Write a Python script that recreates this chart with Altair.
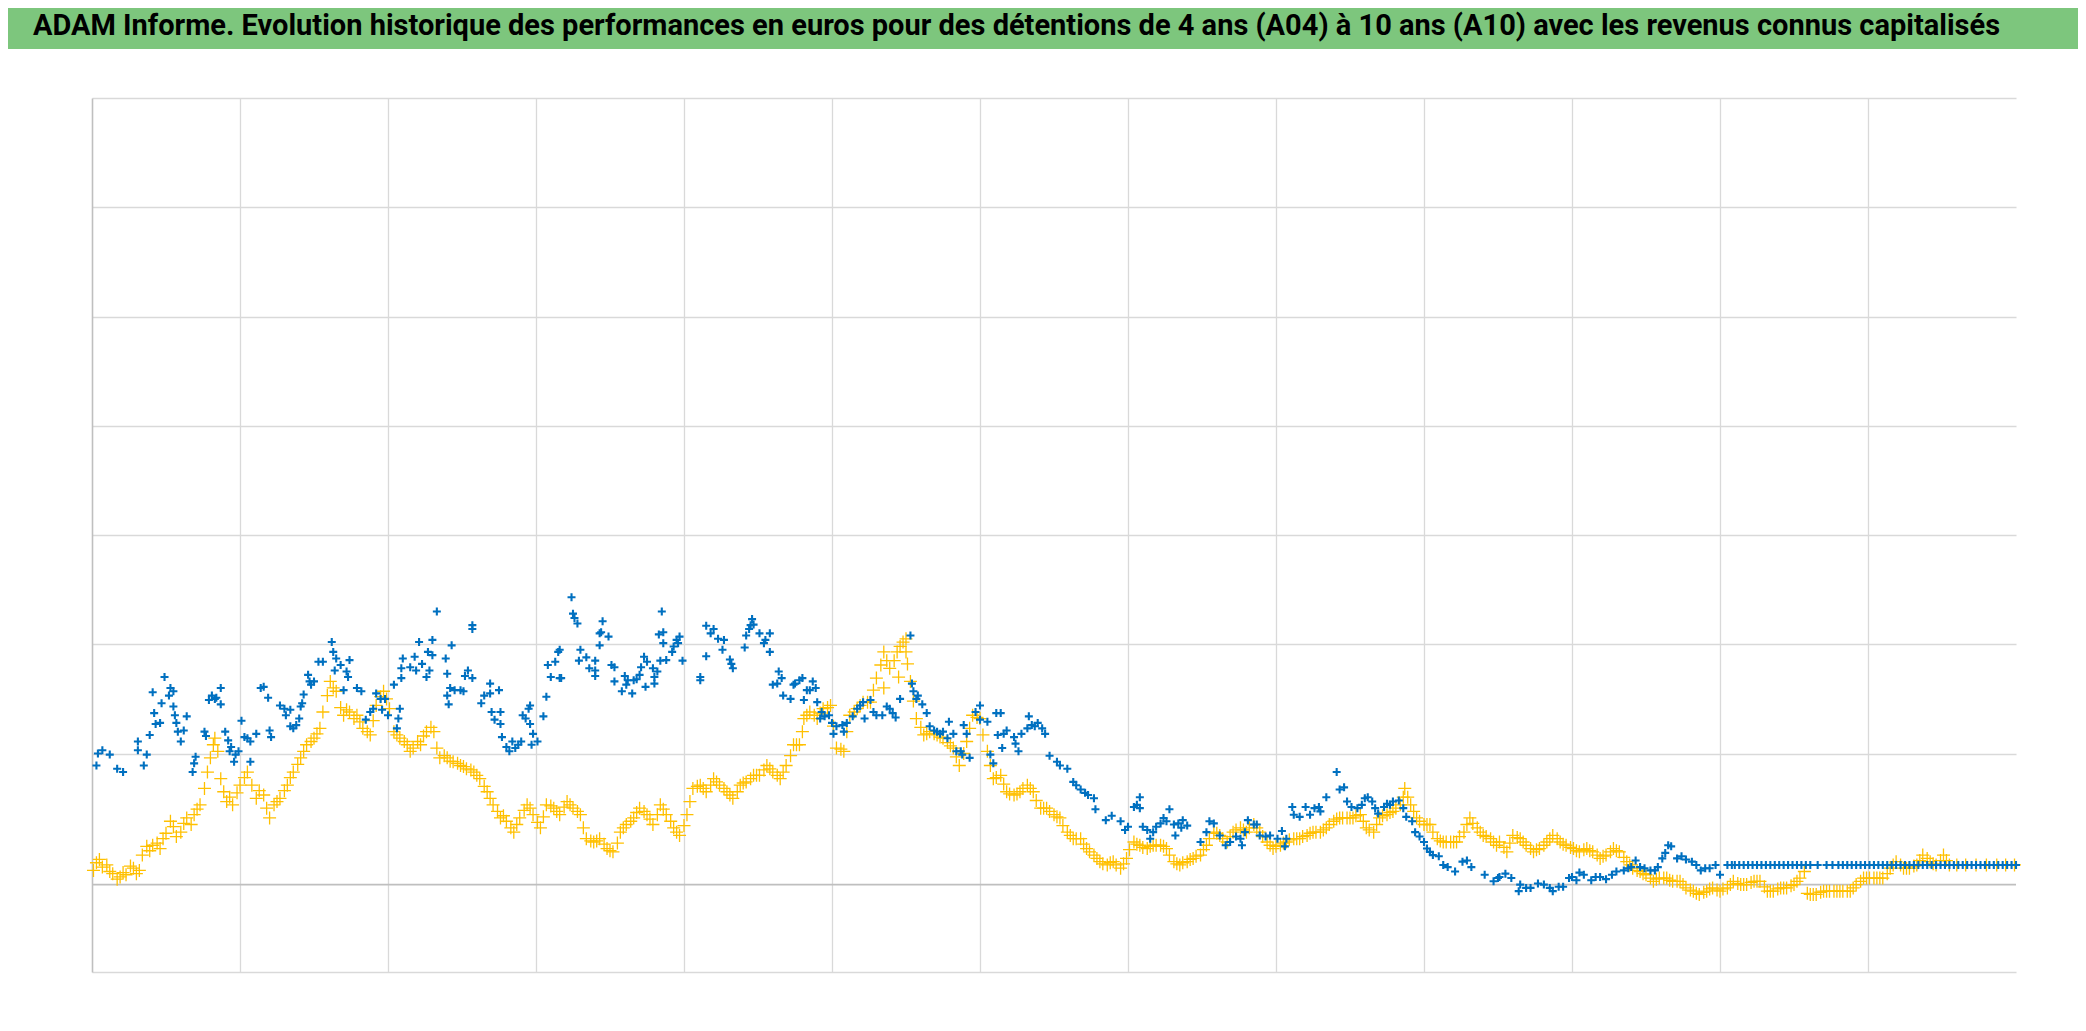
import altair as alt
import pandas as pd

TITLE = ("ADAM Informe. Evolution historique des performances en euros pour des "
         "détentions de 4 ans (A04) à 10 ans (A10) avec les revenus connus capitalisés")

# x = years since start of history, y = performance (1.0 = 100 %)
grid_x = [1, 2, 3, 4, 5, 6, 7, 8, 9, 10, 11, 12]
grid_y = [-0.8, 1.2, 2.2, 3.2, 4.2, 5.2, 6.2, 7.2]

# ---- yellow series (A10) ----
yellow_1 = [(0.01,0.13),(0.03,0.20),(0.05,0.23),(0.07,0.16),(0.10,0.18),(0.12,0.12),(0.14,0.10),(0.17,0.05),
            (0.19,0.07),(0.21,0.11),(0.23,0.09),(0.26,0.17),(0.28,0.15),(0.30,0.10),(0.32,0.13),(0.34,0.27),
            (0.37,0.35),(0.39,0.31),(0.41,0.36),(0.44,0.38),(0.46,0.33),(0.48,0.42),(0.50,0.47),(0.53,0.58),
            (0.55,0.53),(0.57,0.44),(0.60,0.48),(0.62,0.56),(0.64,0.61),(0.67,0.55),(0.69,0.64),(0.71,0.69),
            (0.73,0.73),(0.76,0.88),(0.78,1.03),(0.80,1.16),(0.82,1.28),(0.83,1.34),(0.85,1.22),(0.87,0.97),
            (0.89,0.85),(0.91,0.76),(0.93,0.80),(0.95,0.73),(0.98,0.84),(1.00,0.91),(1.03,0.98),(1.05,1.03),
            (1.08,0.91),(1.11,0.79),(1.13,0.86),(1.16,0.82),(1.18,0.70),(1.20,0.61),(1.23,0.73),(1.25,0.76),
            (1.27,0.79),(1.30,0.86),(1.32,0.91),(1.34,0.98),(1.36,1.03),(1.39,1.10),(1.41,1.16),(1.43,1.22),
            (1.45,1.28),(1.48,1.31),(1.50,1.34),(1.52,1.38),(1.54,1.43),(1.56,1.58),(1.59,1.73),(1.61,1.86),
            (1.63,1.80),(1.65,1.77),(1.68,1.62),(1.70,1.55),(1.72,1.60),(1.74,1.58),(1.77,1.52),(1.79,1.55),
            (1.81,1.49),(1.83,1.43),(1.86,1.40),(1.88,1.37),(1.90,1.50),(1.92,1.64),(1.95,1.72),(1.97,1.77),
            (1.99,1.70),(2.01,1.61),(2.04,1.40),(2.06,1.37),(2.08,1.34),(2.11,1.31),(2.13,1.28),(2.15,1.22),
            (2.17,1.25),(2.20,1.31),(2.22,1.28),(2.24,1.36),(2.26,1.40),(2.29,1.44),(2.31,1.40),(2.33,1.25),
            (2.35,1.16),(2.38,1.18),(2.40,1.16),(2.42,1.13),(2.44,1.125),(2.47,1.11),(2.49,1.09),(2.51,1.08),
            (2.53,1.06),(2.56,1.05),(2.58,1.03),(2.60,1.00),(2.62,0.97),(2.65,0.90),(2.67,0.85),(2.69,0.79),
            (2.71,0.73),(2.74,0.67)]
yellow_2 = [(2.76,0.61),(2.78,0.63),(2.80,0.58),(2.83,0.52),(2.85,0.48),(2.87,0.55),(2.89,0.61),(2.92,0.68),
            (2.94,0.73),(2.96,0.70),(2.98,0.64),(3.01,0.57),(3.03,0.52),(3.05,0.62),(3.07,0.73),(3.10,0.72),
            (3.12,0.70),(3.14,0.67),(3.16,0.64),(3.19,0.71),(3.21,0.76),(3.23,0.73),(3.25,0.70),(3.28,0.67),
            (3.30,0.64),(3.32,0.52),(3.34,0.42),(3.37,0.40),(3.39,0.39),(3.41,0.40),(3.43,0.42),(3.46,0.37),
            (3.48,0.33),(3.50,0.31),(3.52,0.30),(3.55,0.38),(3.57,0.48),(3.59,0.52),(3.61,0.55),(3.64,0.58),
            (3.66,0.61),(3.68,0.66),(3.70,0.70),(3.73,0.67),(3.75,0.64),(3.77,0.60),(3.79,0.55),(3.82,0.64),
            (3.84,0.73),(3.86,0.69),(3.88,0.64),(3.91,0.58),(3.93,0.52),(3.95,0.48),(3.97,0.45),(4.00,0.54),
            (4.02,0.64),(4.04,0.76),(4.06,0.88),(4.09,0.90),(4.11,0.91),(4.13,0.88),(4.15,0.85),(4.18,0.91),
            (4.20,0.97),(4.22,0.94),(4.24,0.91),(4.27,0.88),(4.29,0.85),(4.31,0.82),(4.33,0.79),(4.36,0.85),
            (4.38,0.91),(4.40,0.93),(4.42,0.94),(4.45,0.97),(4.47,1.00),(4.49,1.00),(4.51,1.00),(4.54,1.05),
            (4.56,1.09),(4.58,1.06),(4.60,1.03),(4.63,1.00),(4.65,0.97),(4.67,1.03),(4.69,1.09),(4.72,1.18),
            (4.74,1.28),(4.76,1.28),(4.78,1.28),(4.80,1.40),(4.81,1.52),(4.83,1.55),(4.85,1.58),(4.88,1.55),
            (4.90,1.52),(4.92,1.57),(4.94,1.61),(4.97,1.62),(4.99,1.64),(5.01,1.45),(5.03,1.25),(5.06,1.24),
            (5.08,1.22),(5.10,1.40),(5.12,1.55),(5.15,1.58),(5.17,1.61),(5.19,1.64),(5.21,1.67),(5.24,1.67),
            (5.26,1.67),(5.28,1.78),(5.30,1.89),(5.33,2.01),(5.35,2.13),(5.35,1.80),(5.37,2.05),(5.39,1.98),
            (5.42,2.05),(5.44,2.13),(5.45,1.90),(5.46,2.18),(5.48,2.22),(5.50,2.13),(5.50,2.25),(5.51,2.02),
            (5.53,1.86),(5.55,1.68),(5.57,1.52),(5.60,1.44),(5.62,1.37),(5.64,1.38),(5.66,1.40),(5.69,1.38),
            (5.71,1.37),(5.73,1.35),(5.75,1.34),(5.78,1.30),(5.80,1.27),(5.82,1.25),(5.84,1.17),(5.86,1.09),
            (5.89,1.20),(5.91,1.31),(5.93,1.43),(5.95,1.55),(5.98,1.53),(6.00,1.52),(6.02,1.37),(6.05,1.22),
            (6.07,1.09),(6.09,0.97),(6.11,0.98),(6.14,1.00),(6.16,0.92)]
yellow_3 = [(6.18,0.85),(6.20,0.83),(6.23,0.82),(6.25,0.83),(6.27,0.85),(6.29,0.88),(6.32,0.91),(6.34,0.88),
            (6.36,0.85),(6.38,0.77),(6.41,0.70),(6.43,0.70),(6.45,0.70),(6.47,0.67),(6.50,0.64),(6.52,0.62),
            (6.54,0.61),(6.56,0.54),(6.59,0.48),(6.61,0.45),(6.63,0.42),(6.65,0.42),(6.68,0.42),(6.70,0.37),
            (6.72,0.33),(6.74,0.30),(6.77,0.27),(6.79,0.24),(6.81,0.21),(6.83,0.19),(6.86,0.18),(6.88,0.20),
            (6.90,0.21),(6.92,0.18),(6.95,0.15),(6.97,0.19),(6.99,0.24),(7.01,0.32),(7.04,0.39),(7.06,0.37),
            (7.08,0.36),(7.10,0.34),(7.13,0.33),(7.15,0.35),(7.17,0.36),(7.19,0.36),(7.22,0.36),(7.24,0.35),
            (7.26,0.33),(7.28,0.27),(7.31,0.21),(7.33,0.19),(7.35,0.18),(7.37,0.20),(7.40,0.21),(7.42,0.23),
            (7.44,0.24),(7.46,0.26),(7.49,0.27),(7.51,0.32),(7.53,0.36),(7.55,0.42),(7.58,0.48),(7.60,0.47),
            (7.62,0.45),(7.64,0.42),(7.67,0.39),(7.69,0.44),(7.71,0.48),(7.73,0.50),(7.76,0.52),(7.78,0.50),
            (7.80,0.48),(7.82,0.52),(7.85,0.55),(7.87,0.52),(7.89,0.48),(7.91,0.44),(7.94,0.39),(7.96,0.36),
            (7.98,0.33),(8.00,0.35),(8.03,0.36),(8.05,0.38),(8.07,0.39),(8.09,0.41),(8.12,0.42),(8.14,0.42),
            (8.16,0.42),(8.18,0.44),(8.21,0.45),(8.23,0.47),(8.25,0.48),(8.27,0.48),(8.30,0.48),(8.32,0.50),
            (8.34,0.52),(8.36,0.55),(8.39,0.58),(8.41,0.60),(8.43,0.61),(8.45,0.61),(8.48,0.61),(8.50,0.61),
            (8.52,0.61),(8.54,0.63),(8.57,0.64),(8.59,0.58),(8.61,0.52),(8.63,0.50),(8.66,0.48),(8.68,0.55),
            (8.70,0.61),(8.72,0.63),(8.75,0.64),(8.77,0.66),(8.79,0.67),(8.81,0.70),(8.84,0.73),(8.86,0.80),
            (8.87,0.88),(8.89,0.80),(8.91,0.73),(8.93,0.67),(8.95,0.61),(8.97,0.58),(9.00,0.55),(9.02,0.55),
            (9.04,0.55),(9.06,0.48),(9.09,0.42),(9.11,0.40),(9.13,0.39),(9.15,0.39),(9.18,0.39),(9.20,0.39),
            (9.22,0.39),(9.24,0.44),(9.27,0.48),(9.29,0.55),(9.31,0.61),(9.33,0.56),(9.36,0.52),(9.38,0.48),
            (9.40,0.45),(9.42,0.44),(9.45,0.42),(9.47,0.39),(9.49,0.36)]
yellow_4 = [(9.51,0.39),(9.54,0.34),(9.56,0.30),(9.58,0.38),(9.60,0.45),(9.63,0.43),(9.65,0.42),(9.67,0.39),
            (9.69,0.36),(9.72,0.33),(9.74,0.30),(9.76,0.32),(9.78,0.33),(9.81,0.36),(9.83,0.39),(9.85,0.42),
            (9.87,0.45),(9.90,0.42),(9.92,0.39),(9.94,0.37),(9.96,0.36),(9.99,0.34),(10.01,0.33),(10.03,0.31),
            (10.05,0.30),(10.08,0.32),(10.10,0.33),(10.12,0.31),(10.14,0.30),(10.17,0.27),(10.19,0.24),(10.21,0.26),
            (10.23,0.27),(10.26,0.30),(10.28,0.33),(10.30,0.31),(10.32,0.30),(10.35,0.25),(10.37,0.21),(10.39,0.18),
            (10.41,0.15),(10.44,0.13),(10.46,0.12),(10.48,0.10),(10.50,0.09),(10.53,0.06),(10.55,0.03),(10.57,0.05),
            (10.59,0.06),(10.62,0.06),(10.64,0.06),(10.66,0.04),(10.68,0.03),(10.71,0.03),(10.73,0.03),(10.75,0.00),
            (10.77,-0.03),(10.80,-0.05),(10.82,-0.06),(10.84,-0.08),(10.86,-0.09),(10.89,-0.07),(10.91,-0.06),(10.93,-0.04),
            (10.95,-0.03),(10.98,-0.05),(11.00,-0.06),(11.02,-0.04),(11.05,-0.03),(11.07,0.00),(11.09,0.03),(11.12,0.01),
            (11.14,0.00),(11.16,0.00),(11.18,0.00),(11.21,0.02),(11.23,0.03),(11.25,0.03),(11.27,0.03),(11.30,-0.02),
            (11.32,-0.06),(11.34,-0.06),(11.36,-0.06),(11.39,-0.04),(11.41,-0.03),(11.43,-0.03),(11.45,-0.03),(11.48,-0.01),
            (11.50,0.00),(11.52,0.03),(11.54,0.06),(11.57,0.12),(11.59,-0.08),(11.61,-0.09),(11.63,-0.09),(11.65,-0.09),
            (11.68,-0.07),(11.70,-0.06),(11.72,-0.06),(11.74,-0.06),(11.77,-0.06),(11.79,-0.06),(11.81,-0.06),(11.83,-0.06),
            (11.86,-0.06),(11.88,-0.06),(11.90,-0.03),(11.92,0.00),(11.95,0.03),(11.97,0.06),(11.99,0.06),(12.01,0.06),
            (12.04,0.06),(12.06,0.06),(12.08,0.06),(12.10,0.06),(12.13,0.10),(12.15,0.15),(12.17,0.18),(12.19,0.21),
            (12.22,0.18),(12.24,0.15),(12.26,0.15),(12.28,0.15),(12.31,0.17),(12.33,0.18),(12.35,0.22),(12.37,0.27),
            (12.40,0.24),(12.42,0.21),(12.44,0.19),(12.46,0.18),(12.49,0.22),(12.51,0.27),(12.53,0.22),(12.55,0.18),
            (12.60,0.18),(12.66,0.18),(12.73,0.18),(12.80,0.18),(12.87,0.18),(12.93,0.18),(12.99,0.18)]

# ---- blue series (A04) ----
blue_1 = [(0.03,1.09),(0.04,1.20),(0.07,1.23),(0.12,1.19),(0.17,1.06),(0.21,1.03),(0.31,1.31),(0.31,1.23),
          (0.35,1.09),(0.37,1.19),(0.39,1.37),(0.41,1.76),(0.42,1.57),(0.43,1.47),(0.46,1.48),(0.47,1.66),
          (0.49,1.90),(0.52,1.73),(0.53,1.80),(0.55,1.77),(0.55,1.63),(0.56,1.55),(0.57,1.48),(0.58,1.40),
          (0.60,1.31),(0.62,1.41),(0.64,1.54),(0.68,1.03),(0.69,1.11),(0.70,1.17),(0.76,1.40),(0.77,1.36),
          (0.79,1.69),(0.81,1.73),(0.83,1.70),(0.84,1.71),(0.87,1.80),(0.87,1.65),(0.90,1.40),(0.92,1.32),
          (0.93,1.22),(0.94,1.26),(0.96,1.125),(0.97,1.19),(0.99,1.22),(1.01,1.50),(1.03,1.35),(1.05,1.34),
          (1.07,1.31),(1.07,1.125),(1.11,1.38),(1.14,1.80),(1.16,1.81),(1.19,1.71),(1.20,1.41),(1.21,1.35),
          (1.27,1.64),(1.30,1.61),(1.31,1.55),(1.34,1.60),(1.34,1.45),(1.36,1.43),(1.38,1.46),(1.40,1.52),
          (1.41,1.63),(1.42,1.66),(1.43,1.74),(1.46,1.92),(1.47,1.86),(1.48,1.83),(1.50,1.86),(1.53,2.04),
          (1.56,2.04),(1.62,2.22),(1.63,2.13),(1.64,1.96),(1.65,2.07),(1.68,2.01),(1.70,1.78),(1.72,1.95),
          (1.73,1.90),(1.74,2.055),(1.79,1.80),(1.82,1.77),(1.85,1.51),(1.88,1.58),(1.90,1.61),(1.92,1.75),
          (1.95,1.70),(1.96,1.60),(1.98,1.70),(2.00,1.55),(2.04,1.83),(2.06,1.43),(2.07,1.52),(2.08,1.61),
          (2.09,1.89),(2.09,1.98),(2.10,2.07),(2.15,1.99),(2.18,2.085),(2.19,1.96),(2.21,2.22),(2.23,2.02),
          (2.26,1.90),(2.27,2.13),(2.28,1.96),(2.30,2.24),(2.30,2.10),(2.33,2.50),(2.39,2.07),(2.40,1.93),
          (2.42,1.80),(2.43,2.19),(2.40,1.73),(2.41,1.65),(2.45,1.78),(2.49,1.78),(2.51,1.77),(2.52,1.91),
          (2.54,1.96),(2.57,2.375),(2.57,2.34),(2.57,1.89),(2.63,1.66),(2.65,1.73),(2.69,1.84),(2.69,1.75),
          (2.70,1.58),(2.72,1.51),(2.75,1.78),(2.76,1.58),(2.76,1.47),(2.77,1.35),(2.80,1.26),(2.82,1.22),
          (2.84,1.31),(2.86,1.25),(2.88,1.28),(2.90,1.31),(2.91,1.55),(2.93,1.52),(2.95,1.61),(2.96,1.64),
          (2.96,1.47),(2.97,1.28),(2.98,1.38),(3.01,1.31),(3.05,1.54),(3.07,1.72),(3.08,2.01),(3.10,1.90),
          (3.13,2.04),(3.15,2.13)]
blue_2 = [(3.16,2.15),(3.16,1.89),(3.17,1.89),(3.24,2.63),(3.25,2.48),(3.26,2.44),(3.28,2.39),(3.30,2.15),
          (3.29,2.05),(3.34,2.08),(3.36,1.98),(3.40,2.05),(3.40,1.96),(3.40,1.91),(3.43,2.19),(3.43,2.30),
          (3.44,2.31),(3.45,2.41),(3.49,2.27),(3.51,2.01),(3.53,1.99),(3.53,1.86),(3.58,1.77),(3.60,1.91),
          (3.61,1.83),(3.62,1.87),(3.65,1.75),(3.66,1.87),(3.68,1.88),(3.70,1.92),(3.71,1.99),(3.73,2.085),
          (3.74,1.81),(3.75,2.04),(3.79,1.98),(3.80,1.84),(3.80,1.90),(3.82,1.95),(3.83,2.29),(3.84,2.05),
          (3.85,2.50),(3.86,2.21),(3.86,2.31),(3.88,2.055),(3.92,2.13),(3.93,2.18),(3.95,2.24),(3.96,2.21),
          (3.97,2.27),(3.99,2.05),(4.11,1.87),(4.11,1.90),(4.15,2.09),(4.15,2.37),(4.18,2.30),(4.20,2.34),
          (4.23,2.25),(4.26,2.15),(4.27,2.24),(4.31,2.06),(4.32,2.02),(4.33,1.98),(4.41,2.17),(4.42,2.28),
          (4.44,2.34),(4.45,2.375),(4.46,2.43),(4.47,2.38),(4.51,2.30),(4.54,2.21),(4.55,2.24),(4.58,2.30),
          (4.58,2.13),(4.64,1.95),(4.66,1.89),(4.60,1.83),(4.63,1.84),(4.67,1.73),(4.72,1.70),(4.74,1.83),
          (4.75,1.84),(4.78,1.87),(4.80,1.89),(4.81,1.69),(4.83,1.78),(4.85,1.78),(4.87,1.86),(4.89,1.80),
          (4.90,1.67),(4.92,1.52),(4.93,1.58),(4.95,1.54),(4.98,1.55),(5.00,1.48),(5.01,1.38),(5.03,1.45),
          (5.07,1.46),(5.08,1.40),(5.10,1.48),(5.14,1.54),(5.17,1.61),(5.19,1.64),(5.21,1.67),(5.22,1.52),
          (5.26,1.69),(5.28,1.58),(5.30,1.55),(5.34,1.55),(5.37,1.63),(5.39,1.61),(5.41,1.57),(5.43,1.53),
          (5.46,1.70),(5.53,2.28),(5.54,1.84),(5.55,1.77),(5.57,1.70),(5.58,1.73),(5.61,1.65),(5.64,1.57),
          (5.66,1.45),(5.69,1.41),(5.71,1.40),(5.73,1.38),(5.75,1.40),(5.79,1.49),(5.78,1.34),(5.82,1.38),
          (5.84,1.22),(5.87,1.22),(5.88,1.19),(5.89,1.46),(5.91,1.38),(5.93,1.16),(5.97,1.58),(6.00,1.51),
          (6.00,1.64),(6.05,1.49),(6.07,1.19),(6.09,1.11),(6.11,1.57),(6.12,1.37)]
blue_3 = [(6.14,1.57),(6.15,1.25),(6.16,1.38),(6.18,1.41),(6.23,1.35),(6.24,1.29),(6.26,1.22),(6.28,1.38),
          (6.32,1.43),(6.33,1.54),(6.35,1.46),(6.37,1.45),(6.39,1.48),(6.42,1.43),(6.44,1.38),(6.47,1.18),
          (6.52,1.125),(6.54,1.09),(6.59,1.06),(6.63,0.94),(6.65,0.91),(6.68,0.87),(6.71,0.84),(6.73,0.82),
          (6.77,0.79),(6.78,0.69),(6.85,0.59),(6.89,0.63),(6.95,0.58),(6.98,0.50),(7.00,0.53),(7.04,0.71),
          (7.06,0.73),(7.08,0.80),(7.08,0.70),(7.10,0.53),(7.13,0.50),(7.15,0.42),(7.17,0.48),(7.19,0.53),
          (7.22,0.56),(7.24,0.61),(7.26,0.58),(7.28,0.69),(7.31,0.55),(7.32,0.45),(7.34,0.56),(7.36,0.52),
          (7.37,0.59),(7.40,0.54),(7.49,0.39),(7.53,0.48),(7.55,0.58),(7.58,0.56),(7.62,0.45),(7.66,0.36),
          (7.69,0.39),(7.73,0.44),(7.76,0.42),(7.77,0.36),(7.79,0.48),(7.81,0.59),(7.85,0.55),(7.87,0.55),
          (7.89,0.45),(7.93,0.44),(7.96,0.45),(8.01,0.42),(8.04,0.49),(8.06,0.35),(8.07,0.42),(8.11,0.71),
          (8.12,0.64),(8.16,0.62),(8.20,0.71),(8.23,0.64),(8.26,0.70),(8.29,0.71),(8.30,0.67),(8.34,0.80),
          (8.41,1.03),(8.43,0.87),(8.46,0.89),(8.48,0.76),(8.51,0.71),(8.55,0.70),(8.58,0.73),(8.60,0.79),
          (8.62,0.80),(8.65,0.76),(8.67,0.70),(8.69,0.65),(8.73,0.71),(8.75,0.74),(8.77,0.73),(8.79,0.76),
          (8.83,0.77),(8.86,0.70),(8.88,0.62),(8.92,0.58),(8.94,0.48),(8.97,0.44),(9.00,0.39),(9.02,0.33),
          (9.04,0.30),(9.06,0.27),(9.10,0.26),(9.13,0.18),(9.16,0.16),(9.21,0.12),(9.26,0.21),(9.29,0.22),
          (9.32,0.16),(9.41,0.09),(9.47,0.03),(9.50,0.06)]
blue_4 = [(9.51,0.07),(9.55,0.10),(9.59,0.06),(9.64,-0.06),(9.65,0.00),(9.69,-0.03),(9.72,-0.03),(9.77,0.01),
          (9.81,0.00),(9.85,-0.03),(9.87,-0.06),(9.91,-0.02),(9.94,-0.02),(9.98,0.06),(10.00,0.07),(10.03,0.04),
          (10.05,0.11),(10.08,0.09),(10.13,0.04),(10.16,0.07),(10.19,0.07),(10.23,0.05),(10.27,0.09),(10.30,0.12),
          (10.35,0.13),(10.38,0.15),(10.40,0.16),(10.43,0.22),(10.46,0.16),(10.49,0.15),(10.53,0.13),(10.56,0.13),
          (10.58,0.16),(10.61,0.24),(10.63,0.29),(10.65,0.36),(10.67,0.35),(10.71,0.24),(10.74,0.26),(10.77,0.23),
          (10.81,0.21),(10.84,0.18),(10.87,0.13),(10.90,0.15),(10.93,0.15),(10.97,0.18),(11.00,0.09)]
blue_5 = [(11.05,0.18),(11.08,0.18),(11.10,0.18),(11.13,0.18),(11.16,0.18),(11.19,0.18),(11.22,0.18),(11.25,0.18),
          (11.28,0.18),(11.31,0.18),(11.34,0.18),(11.37,0.18),(11.40,0.18),(11.43,0.18),(11.46,0.18),(11.49,0.18),
          (11.52,0.18),(11.55,0.18),(11.58,0.18),(11.61,0.18),(11.66,0.18),(11.72,0.18),(11.76,0.18),(11.80,0.18),
          (11.83,0.18),(11.86,0.18),(11.89,0.18),(11.92,0.18),(11.95,0.18),(11.98,0.18),(12.01,0.18),(12.04,0.18),
          (12.07,0.18),(12.10,0.18),(12.13,0.18),(12.16,0.18),(12.19,0.18),(12.22,0.18),(12.25,0.18),(12.28,0.18),
          (12.31,0.18),(12.34,0.18),(12.37,0.18),(12.40,0.18),(12.43,0.18),(12.46,0.18),(12.49,0.18),(12.52,0.18),
          (12.55,0.18),(12.58,0.18),(12.61,0.18),(12.64,0.18),(12.67,0.18),(12.70,0.18),(12.73,0.18),(12.76,0.18),
          (12.79,0.18),(12.82,0.18),(12.85,0.18),(12.88,0.18),(12.91,0.18),(12.94,0.18),(12.97,0.18),(13.00,0.18)]

yellow_df = pd.DataFrame(yellow_1 + yellow_2 + yellow_3 + yellow_4, columns=["t", "v"])
blue_df = pd.DataFrame(blue_1 + blue_2 + blue_3 + blue_4 + blue_5, columns=["t", "v"])

PLUS = "M-1,0L1,0M0,-1L0,1"
x_scale = alt.Scale(domain=[0, 13], nice=False, zero=False)
y_scale = alt.Scale(domain=[-0.8, 7.2], nice=False, zero=False)

x_axis = alt.Axis(values=grid_x, grid=True, gridColor="#D9D9D9", gridWidth=1.3,
                  labels=False, ticks=False, domain=False, title=None)
y_axis = alt.Axis(values=grid_y, grid=True, gridColor="#D9D9D9", gridWidth=1.3,
                  labels=False, ticks=False, domain=True, domainColor="#BFBFBF",
                  domainWidth=1.6, title=None)

banner = alt.Chart(pd.DataFrame({"a": [0]})).mark_rect(color="#7DC67D").encode(
    x=alt.value(-84), x2=alt.value(1986), y=alt.value(-90), y2=alt.value(-49))

title = alt.Chart(pd.DataFrame({"txt": [TITLE]})).mark_text(
    align="left", baseline="middle", fontSize=29, fontWeight="bold", color="#000000",
    font="Roboto, 'Liberation Sans', sans-serif"
).encode(x=alt.value(-59), y=alt.value(-72), text="txt:N")

zero = alt.Chart(pd.DataFrame({"v": [0.0]})).mark_rule(color="#BFBFBF", strokeWidth=1.8).encode(
    y=alt.Y("v:Q", scale=y_scale, axis=y_axis))

yellow = alt.Chart(yellow_df).mark_point(
    shape=PLUS, filled=False, color="#FFC000", strokeWidth=1.3, size=169, opacity=1
).encode(
    x=alt.X("t:Q", scale=x_scale, axis=x_axis),
    y=alt.Y("v:Q", scale=y_scale, axis=y_axis),
)

blue = alt.Chart(blue_df).mark_point(
    shape=PLUS, filled=False, color="#0070C0", strokeWidth=2.1, size=64, opacity=1
).encode(
    x=alt.X("t:Q", scale=x_scale, axis=x_axis),
    y=alt.Y("v:Q", scale=y_scale, axis=y_axis),
)

chart = alt.layer(banner, zero, yellow, blue, title).properties(
    width=1924, height=874,
    autosize=alt.AutoSizeParams(type="none"),
    padding={"left": 84, "top": 90, "right": 62, "bottom": 51},
    background="#FFFFFF",
).configure_view(strokeWidth=0)

chart.save("out.html", embed_options={"renderer": "svg", "actions": False})
